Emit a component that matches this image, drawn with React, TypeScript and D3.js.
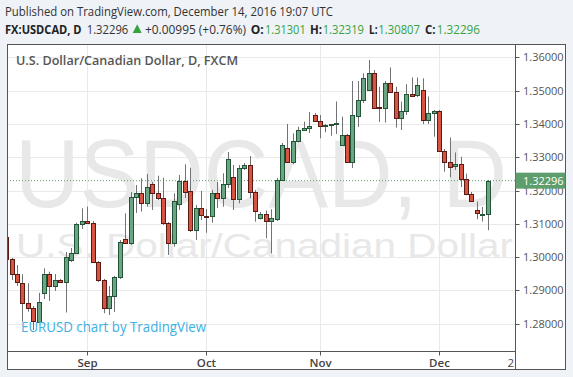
import React from "react";
import * as d3 from "d3";

// Daily USDCAD bars, Aug 11 2016 .. Dec 14 2016 (weekdays)
const firstDay = "2016-08-11";
const lastDay = "2016-12-14";

const opens = [
  1.30594, 1.29934, 1.29484, 1.29232, 1.28631, 1.28463, 1.2806, 1.28928, 1.29484, 1.29132,
  1.29313, 1.29238, 1.29913, 1.30113, 1.30994, 1.31084, 1.31033, 1.29853, 1.29298, 1.28463,
  1.28832, 1.29388, 1.30534, 1.30414, 1.31796, 1.31937, 1.31616, 1.32196, 1.31937, 1.31786,
  1.31015, 1.30433, 1.31586, 1.32277, 1.3197, 1.30799, 1.31466, 1.31235, 1.3122, 1.31916,
  1.3176, 1.32187, 1.32396, 1.31745, 1.32667, 1.32766, 1.31946, 1.31166, 1.31286, 1.31084,
  1.31136, 1.32316, 1.33267, 1.32865, 1.33501, 1.33817, 1.33868, 1.34268, 1.34078, 1.33922,
  1.33952, 1.33988, 1.33366, 1.33666, 1.32865, 1.34247, 1.34718, 1.35018, 1.3552, 1.34517,
  1.34469, 1.35223, 1.34943, 1.34186, 1.34397, 1.34889, 1.34853, 1.35018, 1.34117, 1.34336,
  1.34388, 1.33201, 1.32847, 1.32736, 1.32787, 1.32357, 1.31907, 1.31415, 1.31285, 1.31301,
];
const highs = [
  1.30663, 1.29973, 1.29763, 1.29484, 1.29214, 1.28532, 1.28928, 1.29663, 1.29562, 1.29493,
  1.29343, 1.30153, 1.30273, 1.31033, 1.31466, 1.31516, 1.31084, 1.29883, 1.29343, 1.29132,
  1.29433, 1.30514, 1.31314, 1.31955, 1.32165, 1.32367, 1.32496, 1.32256, 1.32445, 1.32385,
  1.31054, 1.31916, 1.32466, 1.32786, 1.32684, 1.31565, 1.31985, 1.31445, 1.32015, 1.32256,
  1.32517, 1.33156, 1.32766, 1.32766, 1.32826, 1.33036, 1.32015, 1.31355, 1.31394, 1.31436,
  1.32376, 1.33426, 1.33997, 1.33717, 1.33916, 1.34066, 1.34358, 1.34328, 1.34268, 1.33997,
  1.33997, 1.34673, 1.34217, 1.33697, 1.35289, 1.35289, 1.3552, 1.35919, 1.35619, 1.35118,
  1.35289, 1.35694, 1.35118, 1.34667, 1.35192, 1.35393, 1.35393, 1.35369, 1.34823, 1.34418,
  1.34418, 1.33246, 1.33592, 1.33141, 1.33015, 1.32507, 1.31955, 1.31664, 1.31505, 1.32319,
];
const lows = [
  1.29883, 1.29313, 1.29132, 1.2806, 1.28361, 1.27811, 1.28051, 1.28742, 1.28682, 1.28982,
  1.29223, 1.28337, 1.29853, 1.30093, 1.30844, 1.30994, 1.29823, 1.29253, 1.28313, 1.28261,
  1.28352, 1.29343, 1.30393, 1.30363, 1.31325, 1.31364, 1.31514, 1.31415, 1.31715, 1.30964,
  1.30063, 1.30313, 1.31415, 1.31775, 1.30754, 1.30514, 1.31114, 1.30733, 1.31033, 1.31475,
  1.31514, 1.32075, 1.31415, 1.31616, 1.32616, 1.31766, 1.31064, 1.3113, 1.30565, 1.30113,
  1.31084, 1.32286, 1.32826, 1.32787, 1.33447, 1.33787, 1.33727, 1.34057, 1.33568, 1.33748,
  1.33646, 1.33697, 1.33336, 1.3284, 1.32676, 1.33907, 1.34628, 1.34988, 1.34463, 1.34057,
  1.34042, 1.34958, 1.33892, 1.33817, 1.34268, 1.34808, 1.34808, 1.33997, 1.33997, 1.33617,
  1.33156, 1.32565, 1.32396, 1.32616, 1.32105, 1.31856, 1.31664, 1.31135, 1.31069, 1.30807,
];
const closes = [
  1.29934, 1.29493, 1.29238, 1.28631, 1.28463, 1.2809, 1.28643, 1.29484, 1.29132, 1.29313,
  1.29238, 1.29994, 1.30113, 1.30994, 1.31084, 1.31033, 1.29853, 1.29298, 1.28463, 1.28832,
  1.29388, 1.30468, 1.30414, 1.31805, 1.31937, 1.31616, 1.32096, 1.31937, 1.31786, 1.31015,
  1.30433, 1.31685, 1.32277, 1.31955, 1.30799, 1.31466, 1.3125, 1.31196, 1.31916, 1.3176,
  1.32187, 1.32937, 1.31745, 1.32667, 1.32766, 1.31946, 1.31385, 1.31286, 1.31084, 1.31166,
  1.32316, 1.33366, 1.32865, 1.33501, 1.33817, 1.33868, 1.33937, 1.34078, 1.33928, 1.33958,
  1.33988, 1.34018, 1.33666, 1.32865, 1.34268, 1.34718, 1.35364, 1.3552, 1.34487, 1.34469,
  1.35223, 1.34967, 1.34186, 1.34397, 1.34889, 1.34847, 1.35168, 1.34117, 1.34318, 1.34388,
  1.33192, 1.32865, 1.32715, 1.32787, 1.32351, 1.31907, 1.31694, 1.31315, 1.31301, 1.32296,
];

const priceTicks = [1.28, 1.29, 1.3, 1.31, 1.32, 1.33, 1.34, 1.35, 1.36];
const monthTicks = [
  { label: "Sep", date: "2016-09-01" },
  { label: "Oct", date: "2016-10-03" },
  { label: "Nov", date: "2016-11-01" },
  { label: "Dec", date: "2016-12-01" },
];
const futureTickLabel = "2";
const futureTickOffset = 4.3; // bars beyond the last bar
const lastPrice = 1.32296;

const W = 573;
const H = 377;
const plotL = 7, plotR = 515.5, plotT = 44, plotB = 351.5, frameR = 566, frameB = 370;

const tradingDays = d3.utcDay
  .range(new Date(firstDay + "T00:00:00Z"), d3.utcDay.offset(new Date(lastDay + "T00:00:00Z"), 1))
  .filter((d) => d.getUTCDay() !== 0 && d.getUTCDay() !== 6);
const dayKeys = tradingDays.map((d) => d3.utcFormat("%Y-%m-%d")(d));

const x = d3.scaleLinear().domain([dayKeys.indexOf("2016-09-01"), dayKeys.indexOf("2016-12-01")]).range([87.3, 438.95]);
const y = d3.scaleLinear().domain([1.28, 1.36]).range([323.7, 57.3]);

const UP_FILL = "#6ba583";
const UP_LINE = "#225437";
const DN_FILL = "#d75442";
const DN_LINE = "#5b1a13";
const WICK = "#737375";
const GREEN_TXT = "#37a33f";
const fmt = d3.format(".5f");

export default function App() {
  const bars = dayKeys.map((k, i) => ({ i, o: opens[i], h: highs[i], l: lows[i], c: closes[i] }));
  const bw = 4;
  const font = "'Open Sans', 'DejaVu Sans', sans-serif";
  return (
    <svg width={W} height={H} style={{ position: "absolute", left: 0, top: 0 }} fontFamily={font}>
      <defs>
        <clipPath id="plot">
          <rect x={plotL} y={plotT} width={plotR - plotL} height={plotB - plotT} />
        </clipPath>
      </defs>
      <rect x={0} y={0} width={W} height={H} fill="#eff2f7" />
      <rect x={plotL} y={plotT} width={frameR - plotL} height={frameB - plotT} fill="#ffffff" />

      {/* header */}
      <text x={5} y={16} fontSize={12.5} fill="#333" textLength={328} lengthAdjust="spacingAndGlyphs">
        Published on TradingView.com, December 14, 2016 19:07 UTC
      </text>
      <g fontSize={12.5}>
        <text x={5} y={33.5} fill="#222" fontWeight="bold" textLength={76.5} lengthAdjust="spacingAndGlyphs">FX:USDCAD, D</text>
        <text x={86.7} y={33.5} fill="#333" textLength={41.6} lengthAdjust="spacingAndGlyphs">{fmt(lastPrice)}</text>
        <path d="M132.7,33 L137.2,24.2 L141.7,33 Z" fill={GREEN_TXT} />
        <text x={145} y={33.5} fill="#333" textLength={101} lengthAdjust="spacingAndGlyphs">+0.00995 (+0.76%)</text>
        <text x={250.7} y={33.5} fill="#222" fontWeight="bold" textLength={13} lengthAdjust="spacingAndGlyphs">O:</text>
        <text x={265} y={33.5} fill={GREEN_TXT} textLength={40.7} lengthAdjust="spacingAndGlyphs">{fmt(opens[opens.length - 1])}</text>
        <text x={310} y={33.5} fill="#222" fontWeight="bold" textLength={12} lengthAdjust="spacingAndGlyphs">H:</text>
        <text x={322.7} y={33.5} fill={GREEN_TXT} textLength={41.3} lengthAdjust="spacingAndGlyphs">{fmt(highs[highs.length - 1])}</text>
        <text x={369} y={33.5} fill="#222" fontWeight="bold" textLength={8.5} lengthAdjust="spacingAndGlyphs">L:</text>
        <text x={378.3} y={33.5} fill={GREEN_TXT} textLength={41.7} lengthAdjust="spacingAndGlyphs">{fmt(lows[lows.length - 1])}</text>
        <text x={425} y={33.5} fill="#222" fontWeight="bold" textLength={10.5} lengthAdjust="spacingAndGlyphs">C:</text>
        <text x={436.7} y={33.5} fill={GREEN_TXT} textLength={43.3} lengthAdjust="spacingAndGlyphs">{fmt(closes[closes.length - 1])}</text>
      </g>

      <g clipPath="url(#plot)">
        {/* grid */}
        {priceTicks.map((p) => (
          <line key={p} x1={plotL} x2={plotR} y1={Math.round(y(p)) + 0.5} y2={Math.round(y(p)) + 0.5} stroke="#e9e9ea" />
        ))}
        {monthTicks.map((m) => {
          const xx = Math.round(x(dayKeys.indexOf(m.date))) + 0.5;
          return <line key={m.label} x1={xx} x2={xx} y1={plotT} y2={plotB} stroke="#e9e9ea" />;
        })}
        {/* watermark */}
        <text x={15} y={207} fontSize={97} fill="#e8e8e8" fontFamily="'Liberation Sans', Arial, sans-serif" textLength={492} lengthAdjust="spacingAndGlyphs">
          USDCAD, D
        </text>
        <text x={16} y={256.5} fontSize={33} fill="#e8e8e8" fontFamily="'Liberation Sans', Arial, sans-serif" textLength={497} lengthAdjust="spacingAndGlyphs">
          U.S. Dollar/Canadian Dollar
        </text>
        {/* last price line */}
        <line x1={plotL} x2={plotR} y1={y(lastPrice)} y2={y(lastPrice)} stroke="#5fa36e" strokeDasharray="1,2" />
        {/* candles */}
        {bars.map((b) => {
          const up = b.c >= b.o;
          const cx = Math.round(x(b.i));
          const top = Math.round(y(Math.max(b.o, b.c)));
          const bot = Math.round(y(Math.min(b.o, b.c)));
          const hh = Math.max(bot - top, 1);
          return (
            <g key={b.i}>
              <line x1={cx + 0.5} x2={cx + 0.5} y1={y(b.h)} y2={y(b.l)} stroke={WICK} strokeWidth={1} />
              <rect x={cx - bw / 2 + 0.5} y={top + 0.5} width={bw} height={hh} fill={up ? UP_FILL : DN_FILL} stroke={up ? UP_LINE : DN_LINE} strokeWidth={1} />
            </g>
          );
        })}
        <text x={21} y={332} fontSize={14} fill="#3bb0e3" textLength={185} lengthAdjust="spacingAndGlyphs">
          EURUSD chart by TradingView
        </text>
        <text x={16} y={65} fontSize={12.5} fontWeight="600" fill="#555" textLength={222} lengthAdjust="spacingAndGlyphs">
          U.S. Dollar/Canadian Dollar, D, FXCM
        </text>
      </g>

      {/* frame */}
      <rect x={plotL + 0.5} y={plotT + 0.5} width={frameR - plotL - 1} height={frameB - plotT - 1} fill="none" stroke="#555" />
      <line x1={plotR} x2={plotR} y1={plotT} y2={frameB} stroke="#555" />
      <line x1={plotL} x2={plotR} y1={plotB} y2={plotB} stroke="#555" />

      {/* price axis */}
      {priceTicks.map((p) => (
        <g key={p}>
          <line x1={plotR} x2={plotR + 4} y1={Math.round(y(p)) + 0.5} y2={Math.round(y(p)) + 0.5} stroke="#555" />
          <text x={523} y={y(p) + 4} fontSize={11} fill="#555">
            {fmt(p)}
          </text>
        </g>
      ))}
      <rect x={plotR} y={y(lastPrice) - 8} width={frameR - plotR - 0.5} height={16} fill="#5d9e6c" />
      <text x={523} y={y(lastPrice) + 4} fontSize={11} fill="#ffffff">
        {fmt(lastPrice)}
      </text>

      {/* time axis */}
      {monthTicks.map((m) => {
        const xx = Math.round(x(dayKeys.indexOf(m.date))) + 0.5;
        return (
          <g key={m.label}>
            <line x1={xx} x2={xx} y1={plotB} y2={plotB + 4} stroke="#555" />
            <text x={xx} y={367} fontSize={11.5} fill="#444" textAnchor="middle" fontWeight="600">
              {m.label}
            </text>
          </g>
        );
      })}
      {(() => {
        const xx = x(dayKeys.length - 1 + futureTickOffset);
        return (
          <g>
            <text x={xx} y={367} fontSize={11.5} fill="#444" textAnchor="middle">
              {futureTickLabel}
            </text>
          </g>
        );
      })()}
    </svg>
  );
}
